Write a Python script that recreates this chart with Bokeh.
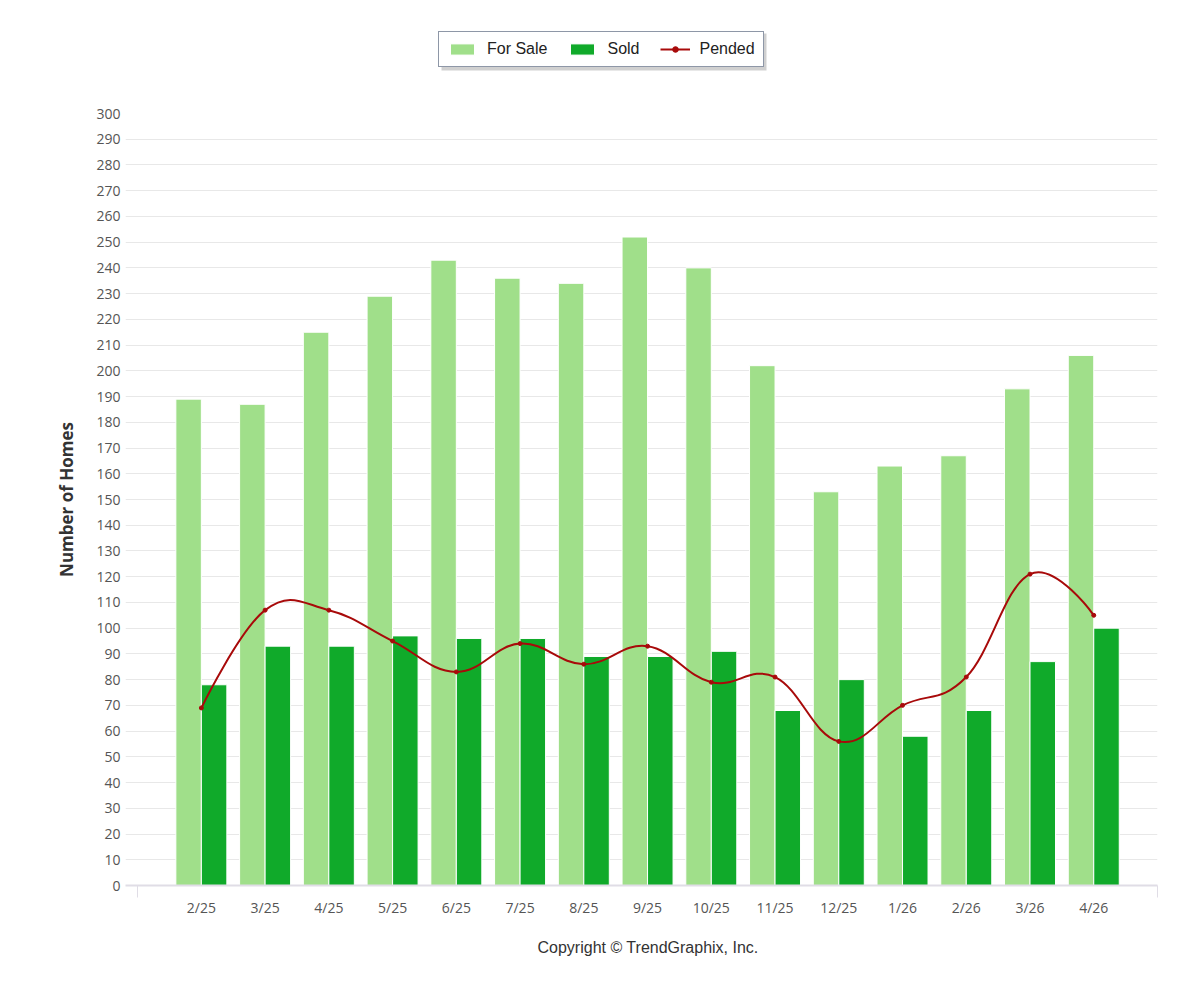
from bokeh.plotting import figure
from bokeh.models import (Range1d, FixedTicker, Legend, LegendItem, Title, ColumnDataSource,
                          BoxAnnotation)
from bokeh.layouts import column
from bokeh.embed import file_html
from bokeh.resources import INLINE

months = ["2/25", "3/25", "4/25", "5/25", "6/25", "7/25", "8/25", "9/25",
          "10/25", "11/25", "12/25", "1/26", "2/26", "3/26", "4/26"]
for_sale = [189, 187, 215, 229, 243, 236, 234, 252, 240, 202, 153, 163, 167, 193, 206]
sold = [78, 93, 93, 97, 96, 96, 89, 89, 91, 68, 80, 58, 68, 87, 100]
pended = [69, 107, 107, 95, 83, 94, 86, 93, 79, 81, 56, 70, 81, 121, 105]
y_ticks = list(range(0, 301, 10))

C_SALE = "#a0df8a"
C_SOLD = "#10aa2a"
C_PEND = "#a80a0a"
TICK_FONT = "'Open Sans', sans-serif"
ARIAL = "'Liberation Sans', Arial, sans-serif"

xs = list(range(1, len(months) + 1))


def spline_controls(px, py, smoothing=1.5):
    n = len(px)
    denom = smoothing + 1
    left = [(px[i], py[i]) for i in range(n)]
    right = [(px[i], py[i]) for i in range(n)]
    for i in range(1, n - 1):
        x, y = px[i], py[i]
        lx = (smoothing * x + px[i - 1]) / denom
        ly = (smoothing * y + py[i - 1]) / denom
        rx = (smoothing * x + px[i + 1]) / denom
        ry = (smoothing * y + py[i + 1]) / denom
        if rx != lx:
            corr = ((ry - ly) * (rx - x)) / (rx - lx) + y - ry
            ly += corr
            ry += corr
        left[i] = (lx, ly)
        right[i] = (rx, ry)
    seg = dict(x0=[], y0=[], x1=[], y1=[], cx0=[], cy0=[], cx1=[], cy1=[])
    for i in range(n - 1):
        seg["x0"].append(px[i]); seg["y0"].append(py[i])
        seg["x1"].append(px[i + 1]); seg["y1"].append(py[i + 1])
        seg["cx0"].append(right[i][0]); seg["cy0"].append(right[i][1])
        seg["cx1"].append(left[i + 1][0]); seg["cy1"].append(left[i + 1][1])
    return seg


src = ColumnDataSource(dict(x=xs, sale=for_sale, sold=sold, pend=pended,
                            xs_sale=[x - 0.2 for x in xs], xs_sold=[x + 0.2 for x in xs]))

FRAME_LEFT = 125

# ---------------- legend strip ----------------
TOP_H = 103
LEG_LEFT = 438
LEG_W = 325
lf = figure(width=1184, height=TOP_H, output_backend="svg", toolbar_location=None,
            x_range=Range1d(1000, 2000), y_range=Range1d(1000, 2000),
            x_axis_location=None, y_axis_location=None,
            min_border=0, outline_line_color=None)
lf.grid.visible = False
lf.background_fill_color = None
lf.border_fill_color = None
l_sale = lf.vbar(x="xs_sale", top="sale", width=0.4, source=src,
                 fill_color=C_SALE, line_color="white", line_width=1)
l_sold = lf.vbar(x="xs_sold", top="sold", width=0.4, source=src,
                 fill_color=C_SOLD, line_color="white", line_width=1)
l_line = lf.line(x="x", y="pend", source=src, line_color=C_PEND, line_width=2)
l_dot = lf.scatter(x="x", y="pend", source=src, size=3, color=C_PEND)

lf.add_layout(BoxAnnotation(left=LEG_LEFT + 3 - FRAME_LEFT, right=LEG_LEFT + LEG_W + 3 - FRAME_LEFT,
                            bottom=33, top=70,
                            left_units="screen", right_units="screen",
                            bottom_units="screen", top_units="screen",
                            fill_color="#777777", fill_alpha=0.35, line_color=None,
                            level="underlay"))

legend = Legend(items=[LegendItem(label="For Sale", renderers=[l_sale]),
                       LegendItem(label="Sold", renderers=[l_sold]),
                       LegendItem(label="Pended", renderers=[l_line, l_dot])],
                orientation="horizontal", location=(LEG_LEFT - FRAME_LEFT, TOP_H - 67),
                glyph_width=30, glyph_height=14, label_height=16, label_standoff=10,
                spacing=20, padding=8, margin=0,
                label_text_font=ARIAL,
                label_text_font_size="16px", label_text_color="#222222",
                border_line_color="#1e3050", border_line_width=1,
                background_fill_color="white", background_fill_alpha=1)
lf.add_layout(legend, "center")

# ---------------- main chart ----------------
p = figure(width=1184, height=984 - TOP_H, output_backend="svg", toolbar_location=None,
           x_range=Range1d(-0.19, 16), y_range=Range1d(0, 300),
           min_border_left=FRAME_LEFT, min_border_right=27, min_border_top=10,
           min_border_bottom=99, outline_line_color=None)
p.background_fill_color = "white"

p.vbar(x="xs_sale", top="sale", width=0.4, source=src,
       fill_color=C_SALE, line_color="white", line_width=1)
p.vbar(x="xs_sold", top="sold", width=0.4, source=src,
       fill_color=C_SOLD, line_color="white", line_width=1)

seg = spline_controls(xs, pended)
p.bezier(x0="x0", y0="y0", x1="x1", y1="y1", cx0="cx0", cy0="cy0", cx1="cx1", cy1="cy1",
         source=ColumnDataSource(seg), line_color=C_PEND, line_width=2)
p.scatter(x="x", y="pend", source=src, size=4, color=C_PEND)

p.xgrid.grid_line_color = None
p.ygrid.grid_line_color = "#e8e8e8"
p.ygrid.ticker = FixedTicker(ticks=y_ticks)

xa = p.xaxis[0]
xa.ticker = FixedTicker(ticks=xs, minor_ticks=[0, 16])
xa.major_label_overrides = {x: m for x, m in zip(xs, months)}
xa.major_tick_line_color = None
xa.major_tick_out = 0
xa.major_tick_in = 0
xa.minor_tick_line_color = "#e0dde6"
xa.minor_tick_out = 12
xa.minor_tick_in = 0
xa.axis_line_color = "#e0dde6"
xa.axis_line_width = 2
xa.major_label_standoff = 0
xa.major_label_text_font = TICK_FONT
xa.major_label_text_font_size = "14px"
xa.major_label_text_color = "#555555"

ya = p.yaxis[0]
ya.ticker = FixedTicker(ticks=y_ticks)
ya.axis_line_color = None
ya.major_tick_line_color = None
ya.minor_tick_line_color = None
ya.major_tick_out = 0
ya.major_label_standoff = 5
ya.major_label_text_font = TICK_FONT
ya.major_label_text_font_size = "14px"
ya.major_label_text_color = "#555555"
ya.axis_label = "Number of Homes"
ya.axis_label_text_font = "'Open Sans', sans-serif"
ya.axis_label_text_font_style = "bold"
ya.axis_label_text_font_size = "17px"
ya.axis_label_text_color = "#333333"
ya.axis_label_standoff = 15

p.add_layout(Title(text="Copyright © TrendGraphix, Inc.", align="left", offset=412,
                   standoff=35, text_font=ARIAL, text_font_style="normal",
                   text_font_size="16px", text_color="#333333"), "below")

layout = column(lf, p, spacing=0)
open("out.html", "w").write(file_html(layout, INLINE))
